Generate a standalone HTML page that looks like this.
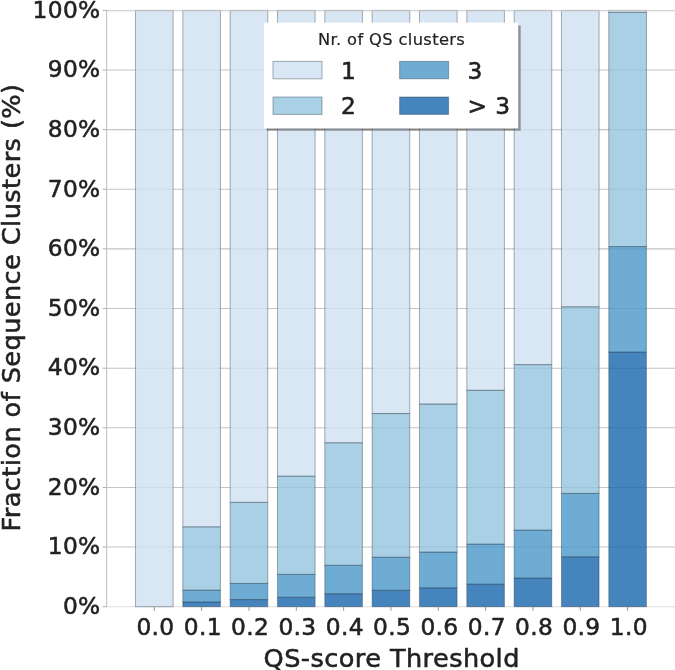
<!DOCTYPE html>
<html><head><meta charset="utf-8"><title>QS clusters</title>
<style>
html,body{margin:0;padding:0;background:#fff;}
svg{display:block;}
text{font-family:'DejaVu Sans','Liberation Sans',sans-serif;fill:#222;stroke:#222;stroke-width:0.55px;stroke-linejoin:round;}
</style></head><body>
<svg width="675" height="670" viewBox="0 0 675 670">
<rect width="675" height="670" fill="#fff"/>
<g stroke="#c4c4c4" stroke-width="1.1">
<line x1="106.6" y1="547.07" x2="675" y2="547.07"/>
<line x1="106.6" y1="487.44" x2="675" y2="487.44"/>
<line x1="106.6" y1="427.81" x2="675" y2="427.81"/>
<line x1="106.6" y1="368.18" x2="675" y2="368.18"/>
<line x1="106.6" y1="308.55" x2="675" y2="308.55"/>
<line x1="106.6" y1="248.92" x2="675" y2="248.92"/>
<line x1="106.6" y1="189.29" x2="675" y2="189.29"/>
<line x1="106.6" y1="129.66" x2="675" y2="129.66"/>
<line x1="106.6" y1="70.03" x2="675" y2="70.03"/>
<line x1="106.6" y1="606.70" x2="675" y2="606.70" stroke="#dedede"/>
</g>
<g stroke="#1c2b3c" stroke-opacity="0.36" stroke-width="1.05" fill-opacity="0.8">
<rect x="135.50" y="10.40" width="37.60" height="596.30" fill="#cfe1f2"/>
<rect x="182.83" y="601.93" width="37.60" height="4.77" fill="#1865ac"/>
<rect x="182.83" y="590.12" width="37.60" height="11.81" fill="#4a97c9"/>
<rect x="182.83" y="526.80" width="37.60" height="63.33" fill="#93c4de"/>
<rect x="182.83" y="10.40" width="37.60" height="516.40" fill="#cfe1f2"/>
<rect x="230.16" y="599.54" width="37.60" height="7.16" fill="#1865ac"/>
<rect x="230.16" y="583.44" width="37.60" height="16.10" fill="#4a97c9"/>
<rect x="230.16" y="502.35" width="37.60" height="81.10" fill="#93c4de"/>
<rect x="230.16" y="10.40" width="37.60" height="491.95" fill="#cfe1f2"/>
<rect x="277.49" y="597.28" width="37.60" height="9.42" fill="#1865ac"/>
<rect x="277.49" y="574.38" width="37.60" height="22.90" fill="#4a97c9"/>
<rect x="277.49" y="476.11" width="37.60" height="98.27" fill="#93c4de"/>
<rect x="277.49" y="10.40" width="37.60" height="465.71" fill="#cfe1f2"/>
<rect x="324.82" y="593.70" width="37.60" height="13.00" fill="#1865ac"/>
<rect x="324.82" y="565.26" width="37.60" height="28.44" fill="#4a97c9"/>
<rect x="324.82" y="442.72" width="37.60" height="122.54" fill="#93c4de"/>
<rect x="324.82" y="10.40" width="37.60" height="432.32" fill="#cfe1f2"/>
<rect x="372.15" y="590.30" width="37.60" height="16.40" fill="#1865ac"/>
<rect x="372.15" y="557.21" width="37.60" height="33.09" fill="#4a97c9"/>
<rect x="372.15" y="413.50" width="37.60" height="143.71" fill="#93c4de"/>
<rect x="372.15" y="10.40" width="37.60" height="403.10" fill="#cfe1f2"/>
<rect x="419.48" y="587.80" width="37.60" height="18.90" fill="#1865ac"/>
<rect x="419.48" y="552.08" width="37.60" height="35.72" fill="#4a97c9"/>
<rect x="419.48" y="403.96" width="37.60" height="148.12" fill="#93c4de"/>
<rect x="419.48" y="10.40" width="37.60" height="393.56" fill="#cfe1f2"/>
<rect x="466.81" y="584.16" width="37.60" height="22.54" fill="#1865ac"/>
<rect x="466.81" y="544.09" width="37.60" height="40.07" fill="#4a97c9"/>
<rect x="466.81" y="390.24" width="37.60" height="153.85" fill="#93c4de"/>
<rect x="466.81" y="10.40" width="37.60" height="379.84" fill="#cfe1f2"/>
<rect x="514.14" y="578.08" width="37.60" height="28.62" fill="#1865ac"/>
<rect x="514.14" y="530.08" width="37.60" height="48.00" fill="#4a97c9"/>
<rect x="514.14" y="364.60" width="37.60" height="165.47" fill="#93c4de"/>
<rect x="514.14" y="10.40" width="37.60" height="354.20" fill="#cfe1f2"/>
<rect x="561.47" y="556.79" width="37.60" height="49.91" fill="#1865ac"/>
<rect x="561.47" y="493.40" width="37.60" height="63.39" fill="#4a97c9"/>
<rect x="561.47" y="306.76" width="37.60" height="186.64" fill="#93c4de"/>
<rect x="561.47" y="10.40" width="37.60" height="296.36" fill="#cfe1f2"/>
<rect x="608.80" y="352.08" width="37.60" height="254.62" fill="#1865ac"/>
<rect x="608.80" y="246.53" width="37.60" height="105.55" fill="#4a97c9"/>
<rect x="608.80" y="12.37" width="37.60" height="234.17" fill="#93c4de"/>
<rect x="608.80" y="10.40" width="37.60" height="1.97" fill="#cfe1f2"/>
</g>
<g stroke="#c4c4c4" stroke-width="1.1">
<line x1="106.6" y1="10.70" x2="675" y2="10.70"/>
<line x1="106.6" y1="9.90" x2="106.6" y2="607.20"/>
</g>
<g stroke="#b4b4b4" stroke-width="1.1">
<line x1="102.6" y1="606.70" x2="106.6" y2="606.70"/>
<line x1="102.6" y1="547.07" x2="106.6" y2="547.07"/>
<line x1="102.6" y1="487.44" x2="106.6" y2="487.44"/>
<line x1="102.6" y1="427.81" x2="106.6" y2="427.81"/>
<line x1="102.6" y1="368.18" x2="106.6" y2="368.18"/>
<line x1="102.6" y1="308.55" x2="106.6" y2="308.55"/>
<line x1="102.6" y1="248.92" x2="106.6" y2="248.92"/>
<line x1="102.6" y1="189.29" x2="106.6" y2="189.29"/>
<line x1="102.6" y1="129.66" x2="106.6" y2="129.66"/>
<line x1="102.6" y1="70.03" x2="106.6" y2="70.03"/>
<line x1="102.6" y1="10.40" x2="106.6" y2="10.40"/>
</g>
<g stroke="#999" stroke-width="1">
<line x1="154.30" y1="607.00" x2="154.30" y2="610.90"/>
<line x1="201.63" y1="607.00" x2="201.63" y2="610.90"/>
<line x1="248.96" y1="607.00" x2="248.96" y2="610.90"/>
<line x1="296.29" y1="607.00" x2="296.29" y2="610.90"/>
<line x1="343.62" y1="607.00" x2="343.62" y2="610.90"/>
<line x1="390.95" y1="607.00" x2="390.95" y2="610.90"/>
<line x1="438.28" y1="607.00" x2="438.28" y2="610.90"/>
<line x1="485.61" y1="607.00" x2="485.61" y2="610.90"/>
<line x1="532.94" y1="607.00" x2="532.94" y2="610.90"/>
<line x1="580.27" y1="607.00" x2="580.27" y2="610.90"/>
<line x1="627.60" y1="607.00" x2="627.60" y2="610.90"/>
</g>
<g font-size="23.3" letter-spacing="0.35" text-anchor="end">
<text x="100.6" y="614.00">0%</text>
<text x="100.6" y="554.37">10%</text>
<text x="100.6" y="494.74">20%</text>
<text x="100.6" y="435.11">30%</text>
<text x="100.6" y="375.48">40%</text>
<text x="100.6" y="315.85">50%</text>
<text x="100.6" y="256.22">60%</text>
<text x="100.6" y="196.59">70%</text>
<text x="100.6" y="136.96">80%</text>
<text x="100.6" y="77.33">90%</text>
<text x="100.6" y="17.70">100%</text>
</g>
<g font-size="23.3" letter-spacing="0.35" text-anchor="middle">
<text x="155.50" y="635.0">0.0</text>
<text x="202.83" y="635.0">0.1</text>
<text x="250.16" y="635.0">0.2</text>
<text x="297.49" y="635.0">0.3</text>
<text x="344.82" y="635.0">0.4</text>
<text x="392.15" y="635.0">0.5</text>
<text x="439.48" y="635.0">0.6</text>
<text x="486.81" y="635.0">0.7</text>
<text x="534.14" y="635.0">0.8</text>
<text x="581.47" y="635.0">0.9</text>
<text x="628.80" y="635.0">1.0</text>
</g>
<text x="391.7" y="666.7" font-size="25.6" letter-spacing="0.42" text-anchor="middle">QS-score Threshold</text>
<text transform="translate(19.6,307.5) rotate(-90)" font-size="25.6" letter-spacing="0.42" text-anchor="middle">Fraction of Sequence Clusters (%)</text>
<rect x="266.5" y="25.5" width="254.2" height="105.2" fill="#505050" fill-opacity="0.55"/>
<rect x="264" y="22.6" width="254.2" height="105.8" fill="#fff"/>
<text x="391.6" y="44.9" font-size="16.3" letter-spacing="0.36" style="stroke-width:0.2px" text-anchor="middle">Nr. of QS clusters</text>
<g stroke="#1c2b3c" stroke-opacity="0.36" stroke-width="1.05" fill-opacity="0.8">
<rect x="273.0" y="61.4" width="49" height="17.4" fill="#cfe1f2"/>
<rect x="273.0" y="97.0" width="49" height="17.4" fill="#93c4de"/>
<rect x="399.6" y="61.4" width="49" height="17.4" fill="#4a97c9"/>
<rect x="399.6" y="97.0" width="49" height="17.4" fill="#1865ac"/>
</g>
<g font-size="23.3" letter-spacing="0.35">
<text x="341" y="78.6">1</text>
<text x="341" y="114.2">2</text>
<text x="467.6" y="78.6">3</text>
<text x="467.6" y="114.2">&gt; 3</text>
</g>
</svg>
</body></html>
